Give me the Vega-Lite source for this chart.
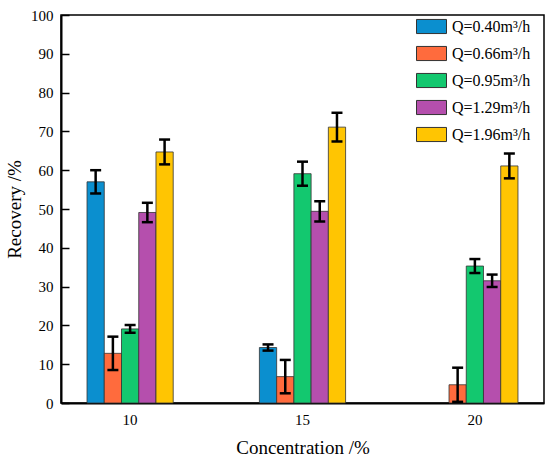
{
  "$schema": "https://vega.github.io/schema/vega-lite/v6.json",
  "width": 483,
  "height": 388,
  "autosize": "none",
  "padding": {"left": 61, "top": 15, "right": 6, "bottom": 61},
  "config": {
    "font": "Liberation Serif",
    "view": {"stroke": "black", "strokeWidth": 1.5},
    "axis": {"labelFont": "Liberation Serif", "titleFont": "Liberation Serif", "labelColor": "black", "titleColor": "black", "domainColor": "black", "tickColor": "black", "grid": false, "titleFontWeight": "normal"},
    "legend": {"labelFont": "Liberation Serif", "labelColor": "black"},
    "text": {"font": "Liberation Serif"}
  },
  "data": {
    "values": [
      {"conc": "10", "series": "Q=0.40m³/h", "value": 57.0, "err": 3.0},
      {"conc": "10", "series": "Q=0.66m³/h", "value": 12.8, "err": 4.3},
      {"conc": "10", "series": "Q=0.95m³/h", "value": 19.1, "err": 1.0},
      {"conc": "10", "series": "Q=1.29m³/h", "value": 49.1, "err": 2.5},
      {"conc": "10", "series": "Q=1.96m³/h", "value": 64.7, "err": 3.2},
      {"conc": "15", "series": "Q=0.40m³/h", "value": 14.3, "err": 0.8},
      {"conc": "15", "series": "Q=0.66m³/h", "value": 6.8, "err": 4.3},
      {"conc": "15", "series": "Q=0.95m³/h", "value": 59.1, "err": 3.1},
      {"conc": "15", "series": "Q=1.29m³/h", "value": 49.4, "err": 2.6},
      {"conc": "15", "series": "Q=1.96m³/h", "value": 71.1, "err": 3.7},
      {"conc": "20", "series": "Q=0.66m³/h", "value": 4.7, "err": 4.4},
      {"conc": "20", "series": "Q=0.95m³/h", "value": 35.3, "err": 1.8},
      {"conc": "20", "series": "Q=1.29m³/h", "value": 31.5, "err": 1.6},
      {"conc": "20", "series": "Q=1.96m³/h", "value": 61.1, "err": 3.2}
    ]
  },
  "encoding": {
    "x": {
      "field": "conc", "type": "ordinal",
      "scale": {"paddingInner": 0.5, "paddingOuter": 0.151},
      "axis": {"labelAngle": 0, "ticks": false, "labelFont": "Liberation Serif", "titleFont": "Liberation Serif", "labelFontSize": 15, "labelPadding": 9, "domainWidth": 2, "title": "Concentration /%", "titleFontSize": 19, "titlePadding": 11}
    },
    "xOffset": {
      "field": "series", "type": "nominal",
      "scale": {"paddingInner": 0, "paddingOuter": 0}
    }
  },
  "layer": [
    {
      "mark": {"type": "bar", "stroke": "#333333", "strokeWidth": 0.8},
      "encoding": {
        "y": {
          "field": "value", "type": "quantitative",
          "scale": {"domain": [0, 100], "nice": false},
          "axis": {"tickCount": 11, "labelOverlap": false, "tickSize": -8, "tickWidth": 1.5, "labelPadding": 16, "labelFontSize": 15, "domainWidth": 2, "title": "Recovery /%", "titleFontSize": 19, "titlePadding": 6}
        },
        "color": {
          "field": "series", "type": "nominal",
          "scale": {
            "domain": ["Q=0.40m³/h", "Q=0.66m³/h", "Q=0.95m³/h", "Q=1.29m³/h", "Q=1.96m³/h"],
            "range": ["#0b8fcf", "#ff6b3d", "#13c86f", "#b54fad", "#ffc502"]
          },
          "legend": {
            "title": null,
            "orient": "none",
            "legendX": 355,
            "legendY": -4,
            "symbolType": "M-1,-0.47H1V0.47H-1Z",
            "symbolSize": 900,
            "symbolStrokeColor": "#333333",
            "symbolStrokeWidth": 1,
            "symbolOpacity": 1,
            "labelFont": "Liberation Serif",
            "labelFontSize": 16,
            "labelOffset": 5,
            "rowPadding": 2
          }
        }
      }
    },
    {
      "mark": {"type": "rule", "strokeWidth": 2.5, "color": "black"},
      "encoding": {
        "y": {"field": "lo", "type": "quantitative"},
        "y2": {"field": "hi"}
      },
      "transform": [
        {"calculate": "datum.value - datum.err", "as": "lo"},
        {"calculate": "datum.value + datum.err", "as": "hi"}
      ]
    },
    {
      "mark": {"type": "tick", "thickness": 2.5, "size": 11, "color": "black", "opacity": 1},
      "transform": [
        {"calculate": "datum.value - datum.err", "as": "lo"},
        {"calculate": "datum.value + datum.err", "as": "hi"},
        {"fold": ["lo", "hi"], "as": ["end", "pos"]}
      ],
      "encoding": {
        "y": {"field": "pos", "type": "quantitative"}
      }
    }
  ]
}
